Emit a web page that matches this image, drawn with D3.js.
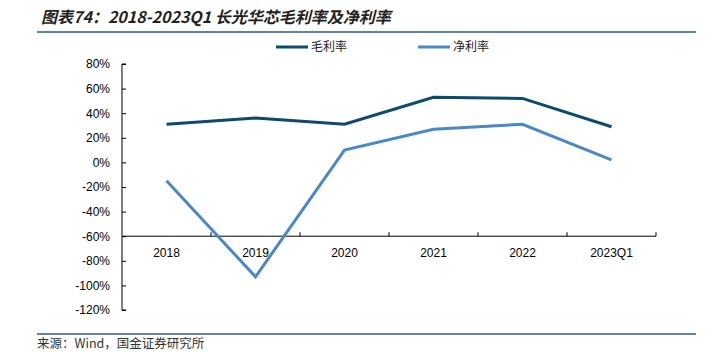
<!DOCTYPE html>
<html><head><meta charset="utf-8">
<script src="https://cdn.jsdelivr.net/npm/d3@7"></script>
<style>
body{margin:0;background:#fff;}
svg text{font-family:"Liberation Sans",Arial,sans-serif;}
</style></head>
<body><svg id="c" width="712" height="352"></svg>
<script>
const years = ['2018','2019','2020','2021','2022','2023Q1'];
const gross = [31, 36, 31, 53, 52, 29];   // 毛利率 %
const net = [-15, -93, 10, 27, 31, 2];    // 净利率 %
const yTicks = [80,60,40,20,0,-20,-40,-60,-80,-100,-120];
const seriesNames = ['毛利率','净利率'];
const colors = ['#0c4a6e','#4a88c7'];

const svg = d3.select('#c');
const cjk = '"Noto Sans CJK SC","Noto Sans CJK JP",sans-serif';

// title + rules
svg.append('text').attr('x',41).attr('y',23)
  .style('font-size','16px').style('font-weight','bold').style('font-style','italic')
  .style('font-family',cjk).style('fill','#222')
  .text('图表74：2018-2023Q1 长光华芯毛利率及净利率');
svg.append('line').attr('x1',37).attr('x2',696).attr('y1',32).attr('y2',32)
  .attr('stroke','#2a5b86').attr('stroke-width',1.5);
svg.append('line').attr('x1',37).attr('x2',696).attr('y1',334).attr('y2',334)
  .attr('stroke','#2a5b86').attr('stroke-width',1.5);
svg.append('text').attr('x',37).attr('y',348)
  .style('font-size','12.5px').style('font-family',cjk).style('fill','#333')
  .text('来源：Wind，国金证券研究所');

const x = d3.scaleBand().domain(years).range([122,656]);
const y = d3.scaleLinear().domain([-120,80]).range([310,64]);

// y axis
const ya = svg.append('g').attr('transform','translate(122,0)')
  .call(d3.axisRight(y).tickValues(yTicks).tickSize(4).tickFormat(d=>d+'%'));
ya.select('.domain').attr('d',`M4,${y(80)}H0V${y(-120)}H4`).attr('stroke','#000');
ya.selectAll('text').attr('x',-12).attr('text-anchor','end')
  .style('font-size','12px').style('fill','#000');

// x axis at -60%
const xa = svg.append('g').attr('transform',`translate(0,${y(-60)})`)
  .call(d3.axisBottom(x).tickSize(0));
xa.select('.domain').attr('d',`M122,0H656`).attr('stroke','#000');
xa.selectAll('text').attr('y',12).style('font-size','12px').style('fill','#000');
xa.selectAll('.bnd').data(years).join('line')
  .attr('x1',d=>x(d)+x.bandwidth()).attr('x2',d=>x(d)+x.bandwidth())
  .attr('y1',0).attr('y2',-4).attr('stroke','#000');

// lines
const line = d3.line().x((d,i)=>x(years[i])+x.bandwidth()/2).y(d=>y(d));
[gross, net].forEach((s,k)=>{
  svg.append('path').datum(s).attr('d',line).attr('fill','none')
    .attr('stroke',colors[k]).attr('stroke-width',3);
});

// legend
const lx = [276, 418];
seriesNames.forEach((n,k)=>{
  svg.append('line').attr('x1',lx[k]).attr('x2',lx[k]+32).attr('y1',47).attr('y2',47)
    .attr('stroke',colors[k]).attr('stroke-width',3);
  svg.append('text').attr('x',lx[k]+35).attr('y',51).style('font-size','12px')
    .style('font-family',cjk).style('fill','#222').text(n);
});
</script></body></html>
